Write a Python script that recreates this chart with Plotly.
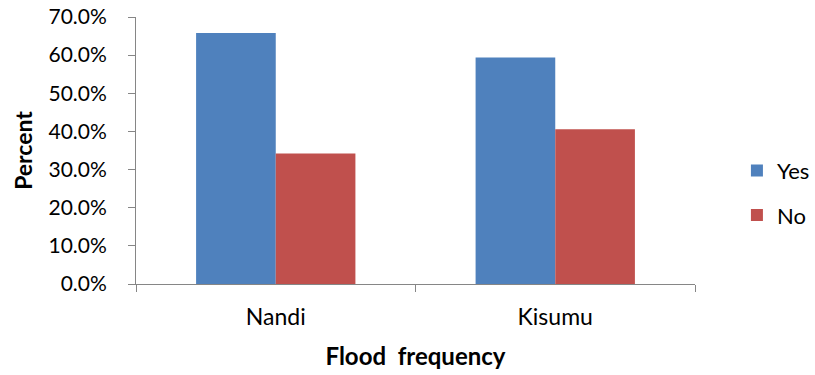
import plotly.graph_objects as go

categories = ["Nandi", "Kisumu"]
yes_pct = [65.8, 59.4]
no_pct = [34.2, 40.6]
y_ticks = [0, 10, 20, 30, 40, 50, 60, 70]

FONT = "Lato, Carlito, Calibri, sans-serif"
AXIS_GREY = "#868686"

fig = go.Figure()
fig.add_trace(go.Bar(name="Yes", x=categories, y=yes_pct, legendgroup="yes",
                     marker=dict(color="#4F81BD", line=dict(width=0))))
fig.add_trace(go.Bar(name="No", x=categories, y=no_pct, legendgroup="no",
                     marker=dict(color="#C0504D", line=dict(width=0))))

fig.update_layout(
    width=815, height=375,
    margin=dict(l=136, r=120, t=17, b=91, autoexpand=False),
    paper_bgcolor="white", plot_bgcolor="white",
    barmode="group", bargap=0.43, bargroupgap=0,
    font=dict(family=FONT, size=22, color="black"),
    legend=dict(x=1.075, y=0.34, xanchor="left", yanchor="middle",
                font=dict(size=22), traceorder="grouped", tracegroupgap=13,
                itemsizing="constant"),
    showlegend=True,
)

fig.update_yaxes(
    range=[0, 70], tickvals=y_ticks,
    ticktext=[f"{v:.1f}%" for v in y_ticks],
    tickfont=dict(size=21),
    showgrid=False, zeroline=False,
    showline=True, linecolor=AXIS_GREY, linewidth=1,
    ticks="outside", ticklen=7, tickcolor=AXIS_GREY, ticklabelstandoff=17,
    title=dict(text="<b>Percent</b>", font=dict(size=23), standoff=9),
)
fig.update_xaxes(
    showgrid=False, zeroline=False,
    tickfont=dict(size=23),
    showline=True, linecolor=AXIS_GREY, linewidth=1,
    ticks="outside", ticklen=7, tickcolor=AXIS_GREY, tickson="boundaries",
    ticklabelstandoff=12,
    title=dict(text="<b>Flood\u00a0\u00a0frequency</b>", font=dict(size=24), standoff=19),
)

fig.write_html("out.html")
